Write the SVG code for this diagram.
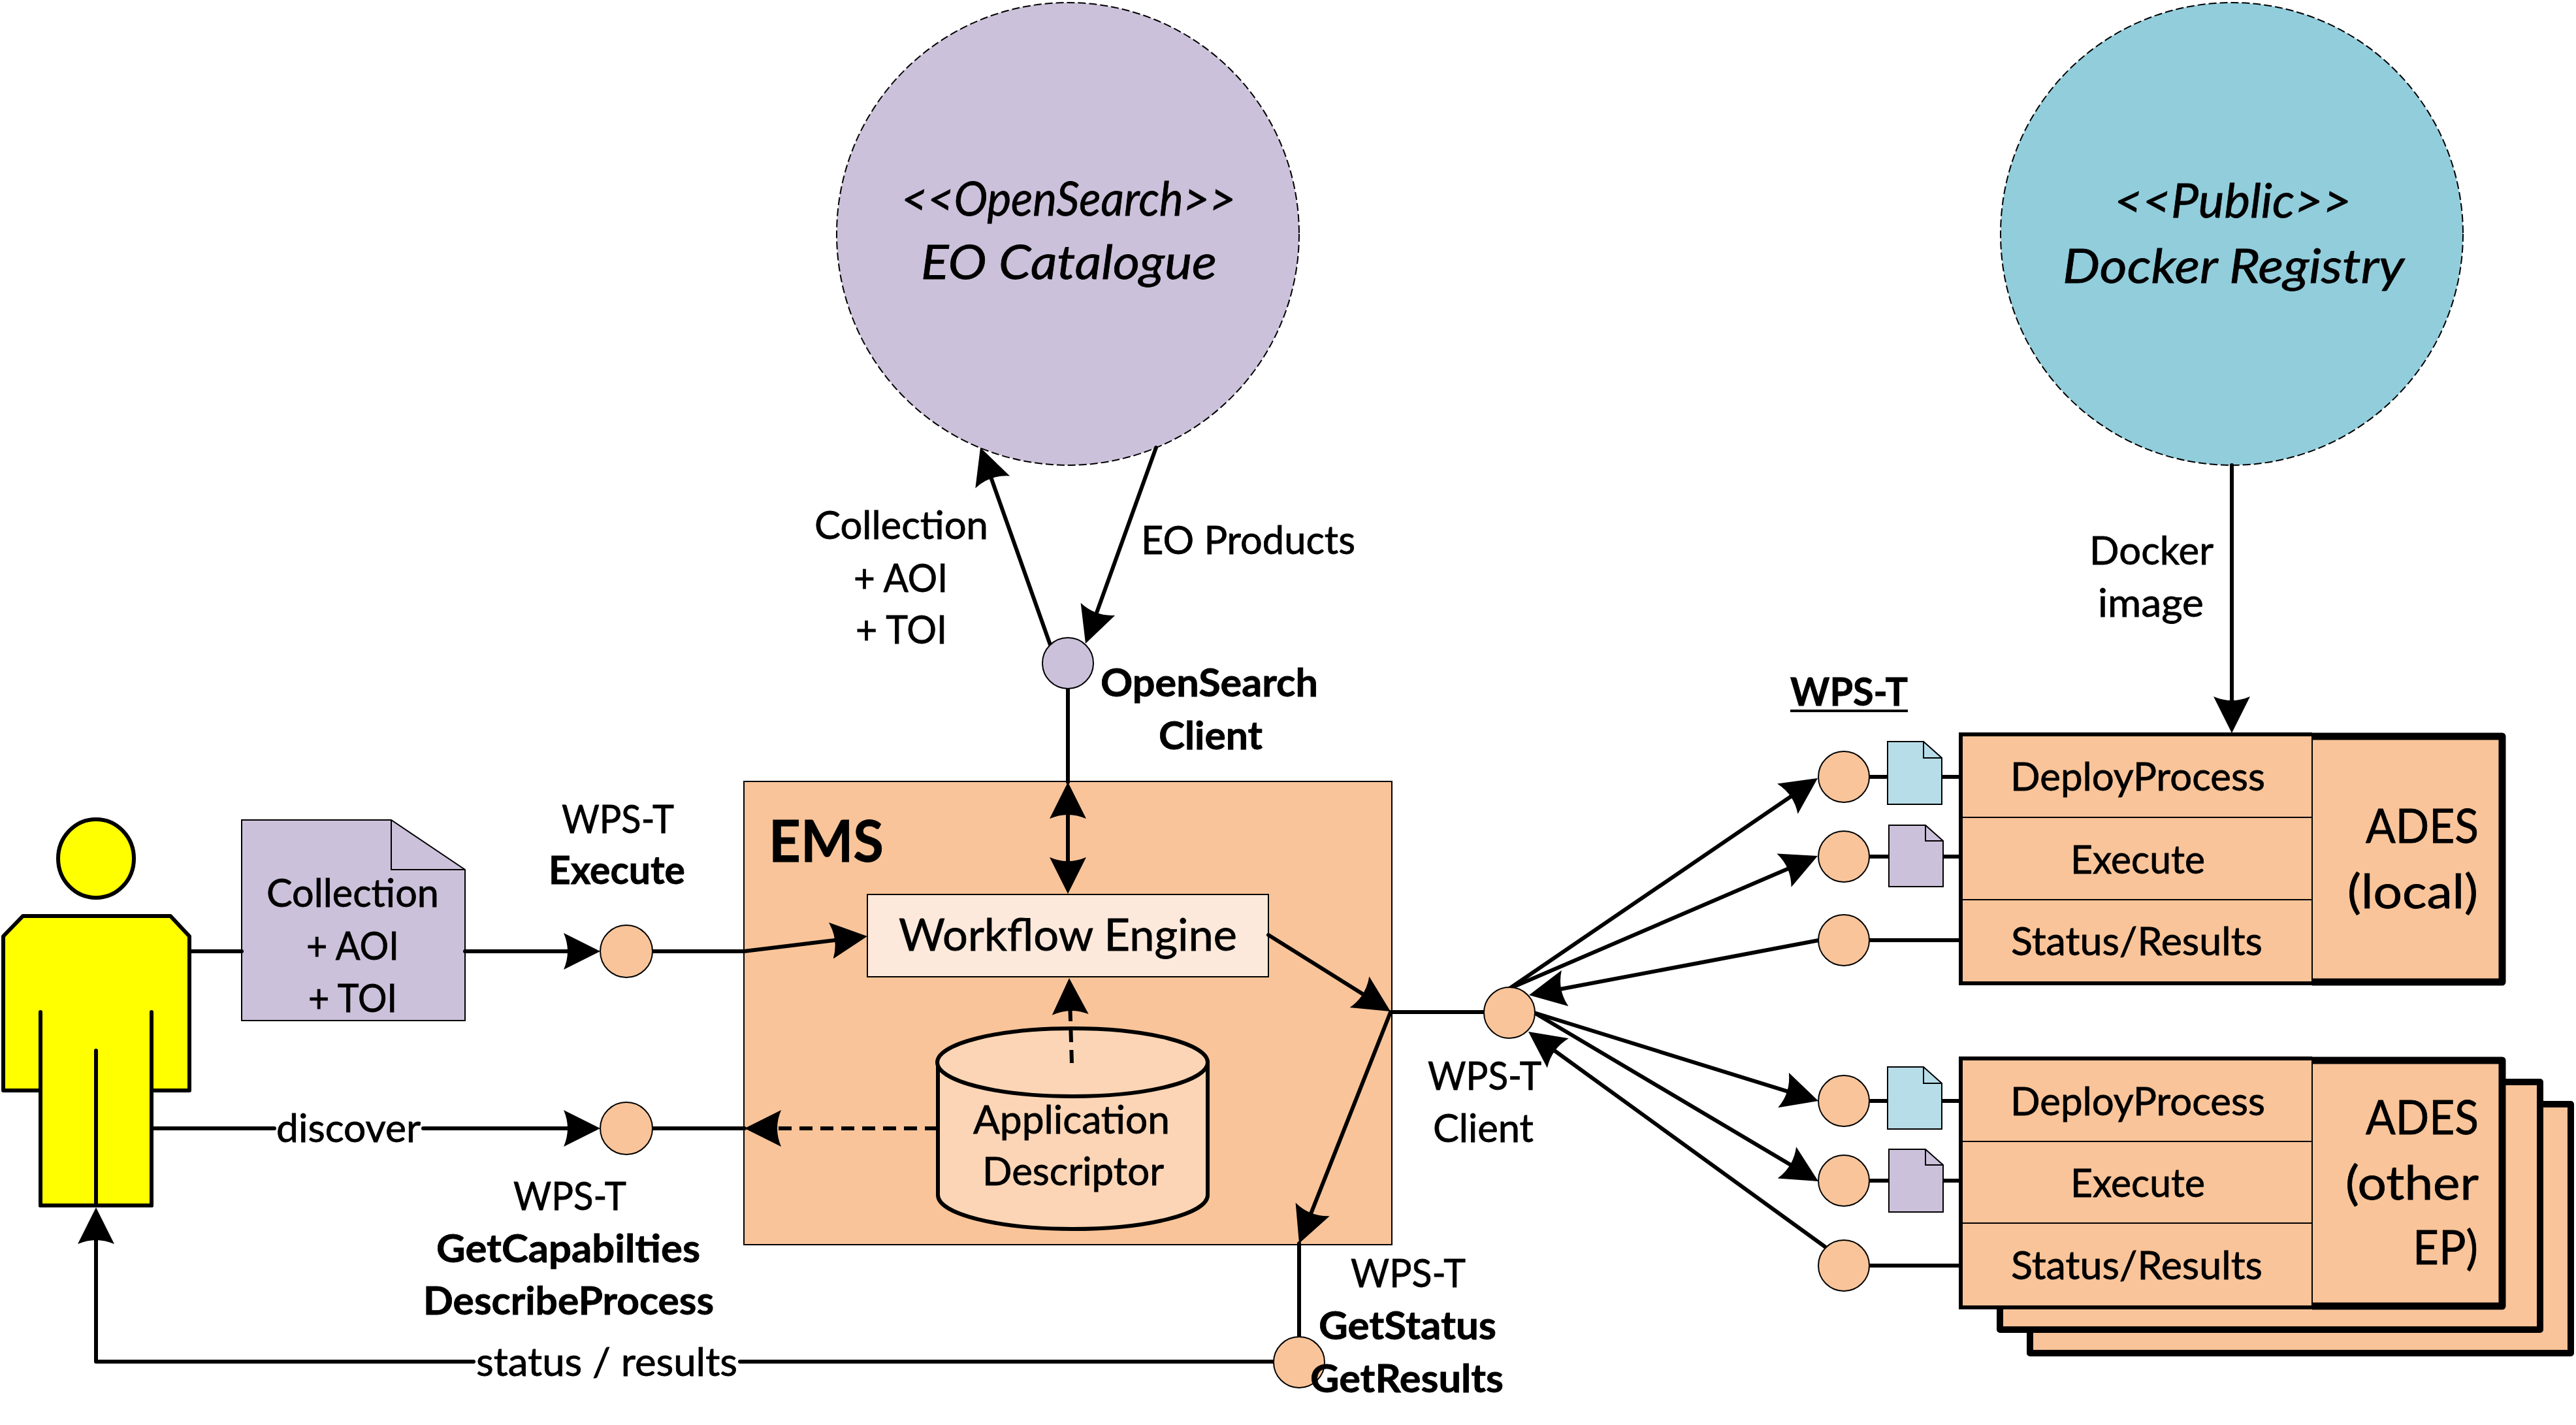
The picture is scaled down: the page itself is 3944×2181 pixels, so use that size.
<svg xmlns="http://www.w3.org/2000/svg" width="3944" height="2181" viewBox="0 0 3944 2181">
<style>
text{font-family:"Lato","Carlito","Open Sans",sans-serif;fill:#000;font-size:60px;stroke:#000;stroke-width:.8;transform:translateY(3px)}
.b{font-weight:700}
.i{font-style:italic;font-size:71px}
.l{font-size:68px}
.x{font-size:72px}
.o{fill:#F9C499;stroke:#000;stroke-width:2}
.p{fill:#CCC1DA;stroke:#000;stroke-width:2}
.c{fill:#B7DDE8;stroke:#000;stroke-width:2}
.n{fill:none;stroke:#000;stroke-width:2}
.k{fill:none;stroke:#000;stroke-width:6;stroke-linejoin:round;stroke-linecap:round}
.t{fill:none;stroke:#000;stroke-width:11;stroke-linejoin:round}
.s{fill:#F9C499;stroke:#000;stroke-width:10;stroke-linejoin:round}
.w{fill:none;stroke:#000;stroke-width:6}
.a{marker-end:url(#h)}
.d{stroke-dasharray:20 12;stroke-linecap:butt}
</style>
<defs>
<marker id="h" markerUnits="userSpaceOnUse" markerWidth="60" markerHeight="60" refX="36" refY="30" orient="auto-start-reverse"><path d="M0,2L56,30L0,58Q12,30 0,2Z" fill="#000"/></marker>
</defs>
<g id="ems"><rect class="o" x="1139" y="1196" width="992" height="709"/><text class="b" x="1177" y="1316" style="font-size:88px" textLength="176" lengthAdjust="spacingAndGlyphs">EMS</text></g>
<g id="workflow-engine"><rect x="1328" y="1369" width="614" height="126" fill="#FCE9DB" stroke="#000" stroke-width="2"/><text class="l" x="1376" y="1452" textLength="518" lengthAdjust="spacingAndGlyphs">Workflow Engine</text></g>
<g id="application-descriptor"><path d="M1436,1626V1829C1436,1858 1528,1881 1642,1881S1849,1858 1849,1829V1626Z" fill="#FBD5B5" stroke="#000" stroke-width="6"/><ellipse cx="1642" cy="1626" rx="207" ry="52" fill="#FBD5B5" stroke="#000" stroke-width="6"/><text x="1490" y="1732" textLength="301" lengthAdjust="spacingAndGlyphs">Application</text><text x="1504" y="1811" textLength="278" lengthAdjust="spacingAndGlyphs">Descriptor</text></g>
<g id="user"><ellipse cx="147" cy="1314" rx="58" ry="60" fill="#FF0" stroke="#000" stroke-width="6"/><path d="M35,1402H261L290,1433V1669H232V1845H62V1669H5V1433Z" fill="#FF0" stroke="#000" stroke-width="6" stroke-linejoin="round"/><path class="k" d="M62,1549V1845M232,1549V1845M147,1608V1845"/></g>
<g id="request-doc"><path class="p" d="M370,1255H599L712,1331V1562H370Z"/><path class="n" d="M599,1255V1331H712"/><text x="408" y="1385" textLength="264" lengthAdjust="spacingAndGlyphs">Collection</text><text x="469" y="1466" textLength="142" lengthAdjust="spacingAndGlyphs">+ AOI</text><text x="472" y="1546" textLength="136" lengthAdjust="spacingAndGlyphs">+ TOI</text></g>
<g id="eo-catalogue"><ellipse class="p" cx="1635" cy="358" rx="354" ry="354" stroke-dasharray="12 5"/><text class="i" x="1380" y="327" textLength="512" lengthAdjust="spacingAndGlyphs">&lt;&lt;OpenSearch&gt;&gt;</text><text class="i" x="1410" y="424" textLength="453" lengthAdjust="spacingAndGlyphs">EO Catalogue</text></g>
<g id="docker-registry"><ellipse cx="3417" cy="358" rx="354" ry="354" fill="#92CDDC" stroke="#000" stroke-width="2" stroke-dasharray="12 5"/><text class="i" x="3237" y="330" textLength="363" lengthAdjust="spacingAndGlyphs">&lt;&lt;Public&gt;&gt;</text><text class="i" x="3158" y="430" textLength="523" lengthAdjust="spacingAndGlyphs">Docker Registry</text></g>
<g id="ades-other-3"><rect class="s" x="3108" y="1690" width="828" height="381"/></g>
<g id="ades-other-2"><rect class="s" x="3062" y="1656" width="827" height="379"/></g>
<g id="ades-local"><rect x="3002" y="1124" width="829" height="381" fill="#F9C499"/><path class="t" d="M3540,1127H3831V1503H3540"/><path class="w" d="M3540,1124H3002V1505H3540"/><path class="n" d="M3540,1124V1505M3002,1251H3540M3002,1377H3540"/><text x="3078" y="1207" textLength="390" lengthAdjust="spacingAndGlyphs">DeployProcess</text><text x="3170" y="1334" textLength="206" lengthAdjust="spacingAndGlyphs">Execute</text><text x="3079" y="1459" textLength="385" lengthAdjust="spacingAndGlyphs">Status/Results</text><text class="x" x="3622" y="1287" textLength="173" lengthAdjust="spacingAndGlyphs">ADES</text><text class="x" x="3594" y="1387" textLength="200" lengthAdjust="spacingAndGlyphs">(local)</text></g>
<g id="ades-other"><rect x="3002" y="1620" width="829" height="381" fill="#F9C499"/><path class="t" d="M3540,1623H3831V1999H3540"/><path class="w" d="M3540,1620H3002V2001H3540"/><path class="n" d="M3540,1620V2001M3002,1747H3540M3002,1872H3540"/><text x="3078" y="1704" textLength="390" lengthAdjust="spacingAndGlyphs">DeployProcess</text><text x="3170" y="1829" textLength="206" lengthAdjust="spacingAndGlyphs">Execute</text><text x="3079" y="1955" textLength="385" lengthAdjust="spacingAndGlyphs">Status/Results</text><text class="x" x="3622" y="1733" textLength="173" lengthAdjust="spacingAndGlyphs">ADES</text><text class="x" x="3591" y="1833" textLength="204" lengthAdjust="spacingAndGlyphs">(other</text><text class="x" x="3694" y="1932" textLength="100" lengthAdjust="spacingAndGlyphs">EP)</text></g>
<g id="connectors">
<path class="k a" d="M725,2084H147V1868"/>
<path class="k" d="M1133,2084H1950"/>
<path class="k" d="M290,1456H370"/>
<path class="k a" d="M712,1456H899"/>
<path class="k" d="M232,1727H420"/>
<path class="k a" d="M648,1727H899"/>
<path class="k a" d="M999,1456H1139L1308,1435.4"/>
<path class="k" d="M1635,1054V1197"/>
<path class="k a" style="marker-start:url(#h)" d="M1635,1217V1348"/>
<path class="k a" d="M1942,1431L2112,1537.4"/>
<path class="k a" d="M2129,1549L1996.4,1884.4"/>
<path class="k" d="M1989,1903V2046M2129,1549H2272"/>
<path class="k a d" d="M1641,1627L1637.6,1517"/>
<path class="k a d" d="M1436,1727H1160"/>
<path class="k" d="M999,1727H1140"/>
<path class="k a" d="M1608,987L1507.7,703.9"/>
<path class="k a" d="M1770,685L1668.8,966.2"/>
<path class="k a" d="M3417,712V1102"/>
<path class="k a" d="M2311,1513L2766.5,1202.3"/>
<path class="k a" d="M2311,1513L2764.6,1317.9"/>
<path class="k a" d="M2785,1439L2360.7,1519.3"/>
<path class="k a" d="M2349,1550L2764.9,1679.1"/>
<path class="k a" d="M2349,1550L2766.8,1797.8"/>
<path class="k a" d="M2798,1911L2356.2,1590.7"/>
<path class="k" d="M2862,1189H3002M2862,1311H3002M2862,1439H3002M2862,1685H3002M2862,1807H3002M2862,1937H3002"/>
</g>
<g id="ports">
<circle class="o" cx="959" cy="1456" r="40"/>
<circle class="o" cx="959" cy="1727" r="40"/>
<circle class="o" cx="2311" cy="1550" r="39"/>
<circle class="o" cx="1989" cy="2085" r="39"/>
<circle class="p" cx="1635" cy="1015" r="39"/>
<circle class="o" cx="2823" cy="1189" r="39"/>
<circle class="o" cx="2823" cy="1311" r="39"/>
<circle class="o" cx="2823" cy="1439" r="39"/>
<circle class="o" cx="2823" cy="1685" r="39"/>
<circle class="o" cx="2823" cy="1807" r="39"/>
<circle class="o" cx="2823" cy="1937" r="39"/>
</g>
<g id="wps-docs">
<path class="c" d="M2890,1135H2945L2973,1160V1231H2890Z"/><path class="n" d="M2945,1135V1160H2973"/>
<path class="p" d="M2892,1263H2948L2975,1287V1357H2892Z"/><path class="n" d="M2948,1263V1287H2975"/>
<path class="c" d="M2890,1633H2945L2973,1658V1728H2890Z"/><path class="n" d="M2945,1633V1658H2973"/>
<path class="p" d="M2892,1759H2948L2975,1783V1855H2892Z"/><path class="n" d="M2948,1759V1783H2975"/>
</g>
<g id="labels">
<text x="860" y="1272" textLength="172" lengthAdjust="spacingAndGlyphs">WPS-T</text>
<text class="b" x="840" y="1350" textLength="209" lengthAdjust="spacingAndGlyphs">Execute</text>
<text x="423" y="1745" textLength="221" lengthAdjust="spacingAndGlyphs">discover</text>
<text x="786" y="1849" textLength="173" lengthAdjust="spacingAndGlyphs">WPS-T</text>
<text class="b" x="668" y="1929" textLength="404" lengthAdjust="spacingAndGlyphs">GetCapabilties</text>
<text class="b" x="648" y="2009" textLength="445" lengthAdjust="spacingAndGlyphs">DescribeProcess</text>
<text x="729" y="2103" textLength="400" lengthAdjust="spacingAndGlyphs">status / results</text>
<text x="2186" y="1665" textLength="174" lengthAdjust="spacingAndGlyphs">WPS-T</text>
<text x="2194" y="1745" textLength="154" lengthAdjust="spacingAndGlyphs">Client</text>
<text x="2068" y="1967" textLength="176" lengthAdjust="spacingAndGlyphs">WPS-T</text>
<text class="b" x="2019" y="2047" textLength="272" lengthAdjust="spacingAndGlyphs">GetStatus</text>
<text class="b" x="2006" y="2128" textLength="296" lengthAdjust="spacingAndGlyphs">GetResults</text>
<text x="1247" y="822" textLength="266" lengthAdjust="spacingAndGlyphs">Collection</text>
<text x="1307" y="903" textLength="144" lengthAdjust="spacingAndGlyphs">+ AOI</text>
<text x="1310" y="982" textLength="140" lengthAdjust="spacingAndGlyphs">+ TOI</text>
<text x="1747" y="845" textLength="328" lengthAdjust="spacingAndGlyphs">EO Products</text>
<text class="b" x="1685" y="1063" textLength="333" lengthAdjust="spacingAndGlyphs">OpenSearch</text>
<text class="b" x="1774" y="1144" textLength="159" lengthAdjust="spacingAndGlyphs">Client</text>
<text x="3199" y="861" textLength="190" lengthAdjust="spacingAndGlyphs">Docker</text>
<text x="3212" y="941" textLength="162" lengthAdjust="spacingAndGlyphs">image</text>
<text class="b" x="2741" y="1077" textLength="180" lengthAdjust="spacingAndGlyphs">WPS-T</text>
<path class="w" d="M2741,1088H2921" style="stroke-width:4"/>
</g>
</svg>
